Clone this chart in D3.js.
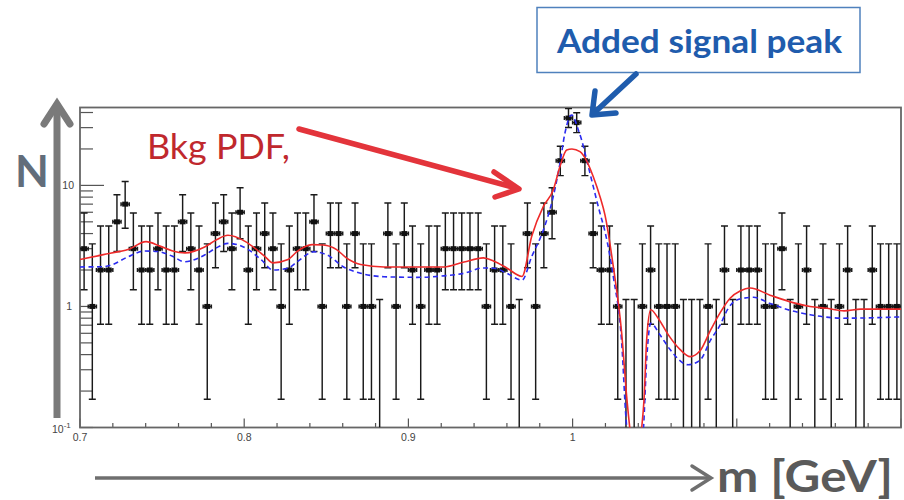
<!DOCTYPE html>
<html>
<head>
<meta charset="utf-8">
<script src="https://cdn.jsdelivr.net/npm/d3@7"></script>
<style>
  html, body { margin: 0; padding: 0; background: #fff; }
  svg { display: block; }
</style>
</head>
<body>
<svg id="chart" width="904" height="500"></svg>
<script>
// ---- Data ---------------------------------------------------------------
// Invariant-mass histogram: 100 bins of 5 MeV from 0.7 to 1.2 GeV
const massMin = 0.7;
const massMax = 1.2;
const binWidth = 0.005;
const counts = [
  3, 1, 2, 2, 5, 7, 3, 2, 2, 3,
  2, 2, 5, 3, 2, 1, 4, 5, 3, 6,
  2, 3, 4, 3, 1, 2, 3, 3, 5, 1,
  4, 4, 1, 4, 1, 1, 0, 4, 1, 4,
  2, 1, 2, 2, 3, 3, 3, 3, 3, 1,
  2, 2, 1, 0, 4, 1, 4, 6, 16, 36,
  33, 16, 4, 2, 2, 1, 0, 0, 1, 2,
  1, 1, 1, 0, 0, 0, 1, 0, 2, 0,
  2, 2, 2, 1, 1, 3, 0, 1, 2, 0,
  1, 0, 1, 2, 0, 0, 2, 1, 1, 1
];
// Upper edge drawn for empty bins
const emptyBinUpper = 1.14;

// Background-only PDF (red, solid)
const bkgMass = [
  0.700, 0.7142, 0.7244, 0.7292, 0.7402, 0.7487, 0.756, 0.7639, 0.7759, 0.7828,
  0.7901, 0.8005, 0.8076, 0.8127, 0.8175, 0.8267, 0.8323, 0.8413, 0.8482, 0.8563,
  0.862, 0.8709, 0.8851, 0.9052, 0.9217, 0.9339, 0.9456, 0.9521, 0.9599, 0.9692,
  0.9751, 0.9822, 0.9882, 0.9923, 0.9964, 0.9996, 1.0045, 1.0086, 1.0126, 1.0167,
  1.0197, 1.0248, 1.0299, 1.0331, 1.0349, 1.0387, 1.0420, 1.0435, 1.0451, 1.0476,
  1.0521, 1.0582, 1.0655, 1.0716, 1.0776, 1.0841, 1.0898, 1.0959, 1.102, 1.1081,
  1.1202, 1.1348, 1.1446, 1.1551, 1.1653, 1.1755, 1.200
];
const bkgValue = [
  2.44, 2.68, 2.85, 2.95, 3.43, 3.15, 2.89, 2.77, 3.10, 3.53,
  3.87, 3.45, 2.95, 2.58, 2.29, 2.44, 2.85, 3.24, 3.22, 2.95,
  2.53, 2.22, 2.12, 2.12, 2.12, 2.33, 2.52, 2.36, 2.08, 1.77,
  3.80, 6.72, 9.16, 14.3, 19.6, 20.0, 19.0, 15.9, 11.8, 8.07,
  5.70, 2.13, 0.60, 0.170, 0.097, 0.04, 0.097, 0.17, 0.53, 0.94,
  0.80, 0.585, 0.44, 0.385, 0.43, 0.64, 0.885, 1.17, 1.34, 1.42,
  1.24, 1.07, 1.00, 0.965, 0.92, 0.95, 0.95
];

// Background + added signal (blue, dashed)
const sigMass = [
  0.700, 0.7142, 0.7191, 0.7292, 0.7394, 0.7475, 0.756, 0.7637, 0.7759, 0.7828,
  0.7901, 0.8023, 0.8105, 0.8175, 0.8267, 0.8323, 0.8425, 0.8506, 0.8608, 0.8709,
  0.8851, 0.9052, 0.9217, 0.9339, 0.9456, 0.9521, 0.9599, 0.9692, 0.9751, 0.9822,
  0.9882, 0.9923, 0.9953, 0.9994, 1.0035, 1.0055, 1.0086, 1.0126, 1.0167, 1.0197,
  1.0248, 1.0299, 1.0326, 1.0338, 1.0387, 1.0431, 1.0451, 1.0476, 1.0533, 1.0594,
  1.0703, 1.0776, 1.0841, 1.0898, 1.0943, 1.1000, 1.1101, 1.1202, 1.1324, 1.1446,
  1.1649, 1.200
];
const sigValue = [
  2.12, 2.13, 2.20, 2.57, 2.87, 2.84, 2.61, 2.34, 2.66, 3.04,
  3.32, 2.96, 2.42, 2.00, 2.07, 2.34, 2.83, 2.66, 2.11, 1.88,
  1.76, 1.74, 1.79, 1.88, 2.08, 2.07, 1.88, 1.65, 2.58, 4.28,
  8.07, 15.2, 26.9, 38.2, 28.7, 23.7, 16.2, 9.76, 5.88, 4.16,
  1.76, 0.50, 0.115, 0.08, 0.035, 0.095, 0.36, 0.726, 0.58, 0.44,
  0.33, 0.36, 0.53, 0.70, 0.94, 1.13, 1.19, 1.06, 0.93, 0.855,
  0.80, 0.82
];

const xTickValues = [0.7, 0.8, 0.9, 1.0];
const xTickLabels = ["0.7", "0.8", "0.9", "1"];

// ---- Layout -------------------------------------------------------------
const svg = d3.select("#chart");
const frame = { left: 80, right: 901, top: 107.5, bottom: 427.5 };

const x = d3.scaleLinear().domain([massMin, massMax]).range([frame.left, frame.right]);
const y = d3.scaleLog().domain([0.1, 44]).range([frame.bottom, frame.top]);

svg.append("rect").attr("width", 904).attr("height", 500).attr("fill", "#fff");

svg.append("defs").append("clipPath").attr("id", "plotClip")
  .append("rect")
  .attr("x", frame.left).attr("y", frame.top)
  .attr("width", frame.right - frame.left).attr("height", frame.bottom - frame.top);

// ---- Axes ---------------------------------------------------------------
const axisColor = "#555";

// x axis: major ticks every 0.1, minor every 0.02, drawn inward
const xMinor = d3.range(0, 26).map(k => massMin + k * 0.02);
svg.append("g").selectAll("line").data(xMinor).join("line")
  .attr("x1", d => x(d)).attr("x2", d => x(d))
  .attr("y1", frame.bottom)
  .attr("y2", (d, i) => frame.bottom - (i % 5 === 0 ? 9 : 4.5))
  .attr("stroke", axisColor).attr("stroke-width", 1.2);

svg.append("g").selectAll("text").data(xTickValues).join("text")
  .attr("x", d => x(d)).attr("y", 441)
  .attr("text-anchor", "middle")
  .attr("font-family", "'Liberation Sans', Arial, sans-serif")
  .attr("font-size", 10.5).attr("fill", "#444")
  .text((d, i) => xTickLabels[i]);

// y axis: logarithmic ticks on the left edge
const yMinor = [];
[0.1, 1, 10].forEach(dec => {
  for (let k = 1; k <= 9; k++) {
    const v = dec * k;
    if (v >= 0.1 && v <= 44) yMinor.push(v);
  }
});
svg.append("g").selectAll("line").data(yMinor).join("line")
  .attr("x1", frame.left)
  .attr("x2", d => frame.left + (Math.abs(d - 10) < 1e-9 ? 24 : 13))
  .attr("y1", d => y(d)).attr("y2", d => y(d))
  .attr("stroke", axisColor).attr("stroke-width", 1.2);

const yLab = svg.append("g")
  .attr("font-family", "'Liberation Sans', Arial, sans-serif")
  .attr("font-size", 10.5).attr("fill", "#444");
yLab.append("text").attr("x", 74).attr("y", y(10) + 4).attr("text-anchor", "end").text("10");
yLab.append("text").attr("x", 72).attr("y", y(1) + 4).attr("text-anchor", "end").text("1");
const tenth = yLab.append("text").attr("x", 52).attr("y", y(0.1) + 5);
tenth.append("tspan").text("10");
tenth.append("tspan").attr("dy", -5).attr("font-size", 8).text("-1");

// frame
svg.append("rect")
  .attr("x", frame.left).attr("y", frame.top)
  .attr("width", frame.right - frame.left).attr("height", frame.bottom - frame.top)
  .attr("fill", "none").attr("stroke", "#666").attr("stroke-width", 1.8);

// ---- Data points with Poisson error bars --------------------------------
function poissonLow(n) {
  const a = 1 - 1 / (9 * n) - 1 / (3 * Math.sqrt(n));
  return n * a * a * a;
}
function poissonHigh(n) {
  const m = n + 1;
  const a = 1 - 1 / (9 * m) + 1 / (3 * Math.sqrt(m));
  return m * a * a * a;
}

const bins = counts.map((n, i) => ({
  center: massMin + binWidth * (i + 0.5),
  n: n
}));

const pts = svg.append("g").attr("clip-path", "url(#plotClip)")
  .attr("stroke", "#1a1a1a").attr("stroke-width", 1.45).attr("fill", "#111");

const cap = 3.5;
bins.forEach(b => {
  const cx = x(b.center);
  const g = pts.append("g");
  if (b.n === 0) {
    const top = y(emptyBinUpper);
    g.append("line").attr("x1", cx).attr("x2", cx).attr("y1", frame.bottom).attr("y2", top);
    g.append("line").attr("x1", cx - cap).attr("x2", cx + cap).attr("y1", top).attr("y2", top);
    return;
  }
  const lo = y(Math.max(poissonLow(b.n), 0.1));
  const hi = y(poissonHigh(b.n));
  const cy = y(b.n);
  const xl = x(b.center - binWidth / 2), xr = x(b.center + binWidth / 2);
  g.append("line").attr("x1", cx).attr("x2", cx).attr("y1", lo).attr("y2", hi);
  g.append("line").attr("x1", cx - cap).attr("x2", cx + cap).attr("y1", hi).attr("y2", hi);
  g.append("line").attr("x1", cx - cap).attr("x2", cx + cap).attr("y1", lo).attr("y2", lo);
  g.append("line").attr("x1", xl).attr("x2", xr).attr("y1", cy).attr("y2", cy);
  g.append("line").attr("x1", xl).attr("x2", xl).attr("y1", cy - 2).attr("y2", cy + 2);
  g.append("line").attr("x1", xr).attr("x2", xr).attr("y1", cy - 2).attr("y2", cy + 2);
  g.append("rect").attr("x", cx - 3).attr("y", cy - 2.5).attr("width", 6).attr("height", 5)
    .attr("stroke", "none");
});

// ---- Fit curves -----------------------------------------------------------
const line = d3.line()
  .x(d => x(d[0]))
  .y(d => y(d[1]))
  .curve(d3.curveMonotoneX);

const curves = svg.append("g").attr("clip-path", "url(#plotClip)").attr("fill", "none");

curves.append("path")
  .datum(sigMass.map((m, i) => [m, sigValue[i]]))
  .attr("d", line)
  .attr("stroke", "#2b2bf0").attr("stroke-width", 1.6)
  .attr("stroke-dasharray", "5,3.5");

curves.append("path")
  .datum(bkgMass.map((m, i) => [m, bkgValue[i]]))
  .attr("d", line)
  .attr("stroke", "#ee2a2a").attr("stroke-width", 1.6);

// ---- Annotations ----------------------------------------------------------
const textFont = "Lato, 'Open Sans', sans-serif";

// vertical axis arrow and label
svg.append("line").attr("x1", 57).attr("x2", 57).attr("y1", 418).attr("y2", 104)
  .attr("stroke", "#7a7a7a").attr("stroke-width", 7);
svg.append("path").attr("d", "M44,124 L57,104 L70,124")
  .attr("fill", "none").attr("stroke", "#7a7a7a").attr("stroke-width", 7)
  .attr("stroke-linecap", "round").attr("stroke-linejoin", "miter");
svg.append("text").attr("x", 15).attr("y", 187)
  .attr("font-family", textFont).attr("font-weight", 700).attr("font-size", 44)
  .attr("fill", "#626d7a").text("N");

// horizontal axis arrow and label
svg.append("line").attr("x1", 95).attr("x2", 710).attr("y1", 478).attr("y2", 478)
  .attr("stroke", "#6f6f6f").attr("stroke-width", 3.5);
svg.append("path").attr("d", "M692,466 L711,478 L692,490")
  .attr("fill", "none").attr("stroke", "#6f6f6f").attr("stroke-width", 3.5)
  .attr("stroke-linecap", "round");
svg.append("text").attr("x", 717).attr("y", 492)
  .attr("font-family", textFont).attr("font-weight", 700).attr("font-size", 44)
  .attr("fill", "#5a5a5a").attr("textLength", 176).attr("lengthAdjust", "spacingAndGlyphs")
  .text("m [GeV]");

// background PDF callout
svg.append("text").attr("x", 147).attr("y", 159)
  .attr("font-family", textFont).attr("font-size", 34)
  .attr("fill", "#c0282d").attr("textLength", 143).attr("lengthAdjust", "spacingAndGlyphs")
  .text("Bkg PDF,");
svg.append("line").attr("x1", 299).attr("y1", 129).attr("x2", 516).attr("y2", 188)
  .attr("stroke", "#e3343b").attr("stroke-width", 5.5).attr("stroke-linecap", "round");
svg.append("path").attr("d", "M494,172 L519,189 L495,197")
  .attr("fill", "none").attr("stroke", "#e3343b").attr("stroke-width", 5.5)
  .attr("stroke-linecap", "round").attr("stroke-linejoin", "round");

// signal callout box
svg.append("rect").attr("x", 537).attr("y", 7.5).attr("width", 323).attr("height", 65)
  .attr("fill", "#fff").attr("stroke", "#4f81bd").attr("stroke-width", 1.5);
svg.append("text").attr("x", 557).attr("y", 53)
  .attr("font-family", textFont).attr("font-weight", 700).attr("font-size", 32)
  .attr("fill", "#1f5cad").attr("textLength", 285).attr("lengthAdjust", "spacingAndGlyphs")
  .text("Added signal peak");
svg.append("line").attr("x1", 636).attr("y1", 74).attr("x2", 594).attr("y2", 113)
  .attr("stroke", "#1f5cad").attr("stroke-width", 5.5).attr("stroke-linecap", "round");
svg.append("path").attr("d", "M595,91 L592,115 L616,113")
  .attr("fill", "none").attr("stroke", "#1f5cad").attr("stroke-width", 5.5)
  .attr("stroke-linecap", "round").attr("stroke-linejoin", "round");
</script>
</body>
</html>
